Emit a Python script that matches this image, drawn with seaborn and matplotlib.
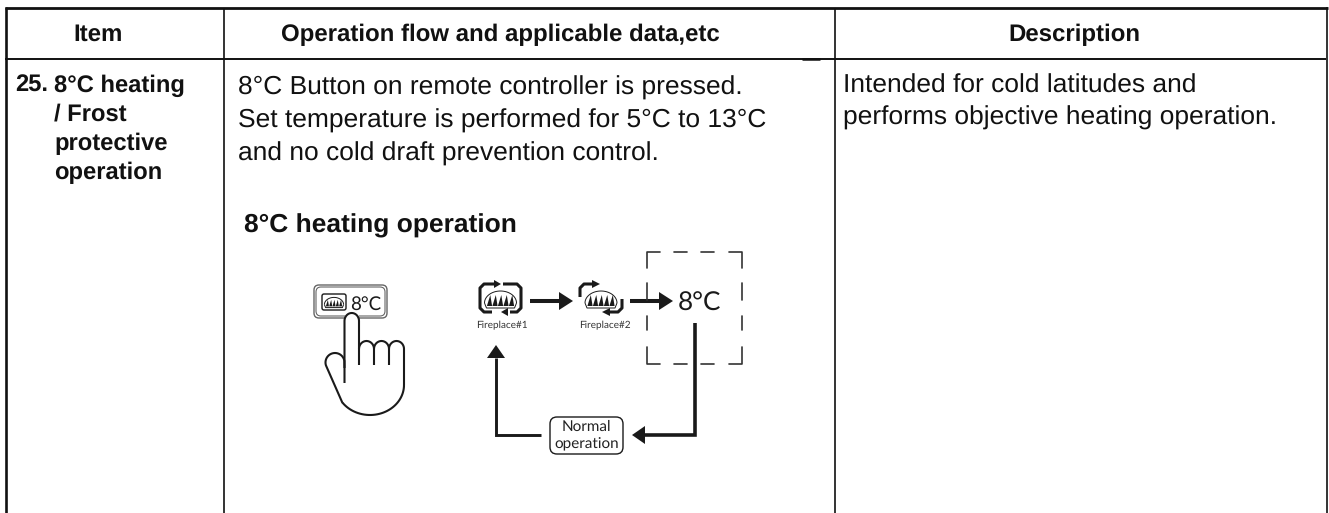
import numpy as np
import pandas as pd
import matplotlib
matplotlib.use("Agg")
import matplotlib.pyplot as plt
from matplotlib.patches import FancyBboxPatch, Polygon, Rectangle
import seaborn as sns

W, H = 1329, 513

headers = ["Item", "Operation flow and applicable data,etc", "Description"]
item_number = "25."
item_lines = ["8°C heating", "/ Frost", "protective", "operation"]
flow_lines = ["8°C Button on remote controller is pressed.",
              "Set temperature is performed for 5°C to 13°C",
              "and no cold draft prevention control."]
desc_lines = ["Intended for cold latitudes and",
              "performs objective heating operation."]
diagram_title = "8°C heating operation"
button_label = "8°C"
step_labels = ["Fireplace#1", "Fireplace#2"]
target_label = "8°C"
normal_lines = ["Normal", "operation"]

# table rules as (x0, y0, x1, y1, width)
rules = pd.DataFrame([
    (5, 7.5, 1328, 7.5, 2.0),
    (5, 59, 1326, 59, 1.4),
    (802, 59.3, 820, 59.3, 1.8),
    (5.5, 7, 5.5, 513, 1.9),
    (224, 8, 224, 513, 1.2),
    (834.5, 8, 834.5, 513, 1.2),
    (1327, 7, 1327, 513, 1.2),
], columns=["x0", "y0", "x1", "y1", "lw"])

sns.set_theme(style="white")
plt.rcParams["font.family"] = ["Liberation Sans", "DejaVu Sans"]
plt.rcParams["text.hinting"] = "no_hinting"
plt.rcParams["text.hinting_factor"] = 8

fig, ax = plt.subplots(figsize=(W / 100, H / 100), dpi=100)
fig.subplots_adjust(0, 0, 1, 1)
INK = "#1a1a1a"

for i, r in rules.iterrows():
    seg = pd.DataFrame({"x": [r.x0, r.x1], "y": [r.y0, r.y1]})
    sns.lineplot(data=seg, x="x", y="y", ax=ax, color="#111111", lw=r.lw, sort=False,
                 estimator=None, solid_capstyle="butt")
ax.set_xlim(0, W)
ax.set_ylim(H, 0)
ax.axis("off")

for x, t in zip([98, 500.5, 1074], headers):
    ax.text(x, 41, t, ha="center", va="baseline", fontsize=17.3, fontweight="bold", color="#111111")
ax.text(15, 92, item_number, ha="left", va="baseline", fontsize=17.1, fontweight="bold", color="#111111")
for y, t in zip([92, 121, 150, 179], item_lines):
    ax.text(54.5, y, t, ha="left", va="baseline", fontsize=17.1, fontweight="bold", color="#111111")
for y, t in zip([95, 128, 161], flow_lines):
    ax.text(238, y, t, ha="left", va="baseline", fontsize=19, color="#111111")
for y, t in zip([93, 125], desc_lines):
    ax.text(843, y, t, ha="left", va="baseline", fontsize=19, color="#111111")
ax.text(244.5, 232, diagram_title, ha="left", va="baseline", fontsize=19, fontweight="bold", color="#111111")


def path(xs, ys, lw=1.4, **kw):
    ax.plot(xs, ys, color=INK, lw=lw, solid_capstyle=kw.pop("cap", "butt"), **kw)


def tri(tip, base, half):
    tip = np.array(tip, float)
    base = np.array(base, float)
    d = (tip - base) / np.hypot(*(tip - base))
    n = np.array([-d[1], d[0]])
    ax.add_patch(Polygon([tip, base + n * half, base - n * half], closed=True, color=INK, lw=0, zorder=3))


def flames(cx, cy, s=1.0):
    t = np.linspace(np.pi, 2 * np.pi, 30)
    path(cx + 16 * s * np.cos(t), cy + 16 * s + 12 * s * np.sin(t), lw=0.7, zorder=4)
    path([cx - 16 * s, cx - 14 * s, cx + 14 * s, cx + 16 * s],
         [cy + 16 * s, cy + 21 * s, cy + 21 * s, cy + 16 * s], lw=0.7, zorder=4)
    for dx in [-11, -5.5, 0, 5.5, 11]:
        ax.add_patch(Polygon([[cx + (dx - 2.6) * s, cy + 19 * s], [cx + (dx + 2.6) * s, cy + 19 * s],
                              [cx + (dx + 0.8) * s, cy + 8 * s]], closed=True, color=INK, lw=0, zorder=4))


# button with hand
for off, lw in [(0, 1.0), (2, 0.8)]:
    ax.add_patch(FancyBboxPatch((314 + off, 285 + off), 73 - 2 * off, 33 - 2 * off,
                                boxstyle="round,pad=0,rounding_size=5", fc="none", ec="#666666", lw=lw, zorder=2))
ax.add_patch(FancyBboxPatch((322, 294), 24, 16, boxstyle="round,pad=0,rounding_size=2", fc="none", ec=INK, lw=1.0))
flames(334, 295, 0.6)
ax.text(366, 309.5, button_label, ha="center", va="baseline", fontsize=13.5, color=INK, family="Lato")

t = np.linspace(np.pi, 2 * np.pi, 30)
ax.add_patch(Rectangle((345, 313), 14, 75, fc="white", ec="none", zorder=3))
hand_lw = 1.5
path(np.r_[344.5, 351.75 + 7.25 * np.cos(t), 359, 359], np.r_[383, 321 + 8 * np.sin(t), 321, 365], lw=hand_lw, zorder=4)
for x0 in [359, 374, 389]:
    x1 = x0 + 15
    if x0 == 389:
        y_end = 385
    else:
        y_end = 365
    path(np.r_[x0 + 7.5 + 7.5 * np.cos(t), x1, x1], np.r_[349 + 8 * np.sin(t), 349, y_end], lw=hand_lw, zorder=4)
bt = np.linspace(0, np.pi * 0.8, 40)
path(370 + 34 * np.cos(bt), 385 + 30 * np.sin(bt), lw=hand_lw, zorder=4)
tb = np.linspace(np.pi * 0.9, np.pi * 1.95, 30)
path(np.r_[342.5, 335 + 9.5 * np.cos(tb), 344.5],
     np.r_[403, 362.5 + 9.5 * np.sin(tb), 368], lw=hand_lw, zorder=4)

# flow diagram: first icon, full frame with two gaps
icon_lw = 2.2
path([494, 484, 480, 480, 484, 492], [284, 284, 288, 308, 312, 312], lw=icon_lw, solid_joinstyle="round")
path([503, 517, 521, 521, 517, 510], [284, 284, 288, 308, 312, 312], lw=icon_lw, solid_joinstyle="round")
tri((501, 284), (494, 284), 4)
tri((501, 312), (508, 312), 4)
flames(500.5, 287)
ax.text(502, 325, step_labels[0], ha="center", va="center", fontsize=7.2, color="#333333", family="Lato")

# second icon, only two corners of the frame
path([580, 580, 584, 593], [297, 288, 284, 284], lw=icon_lw, solid_joinstyle="round")
path([622, 622, 618, 609], [299, 308, 312, 312], lw=icon_lw, solid_joinstyle="round")
tri((600, 284), (592, 284), 4)
tri((602, 312), (610, 312), 4)
flames(601, 287)
ax.text(604.5, 325, step_labels[1], ha="center", va="center", fontsize=7.2, color="#333333", family="Lato")

path([530, 559], [301, 301], lw=2.9)
tri((573, 301), (559, 301), 9)
path([630, 659], [301, 301], lw=2.9)
tri((673, 301), (659, 301), 9)
ax.text(699, 311, target_label, ha="center", va="baseline", fontsize=18.8, color=INK, family="Lato")

# dashed frame, corners and dashes
box_lw = 1.2
dash_color = "#333333"
ax.plot([647, 647, 660], [268, 252, 252], color=dash_color, lw=box_lw)
ax.plot([647, 647, 660], [347, 364, 364], color=dash_color, lw=box_lw)
ax.plot([742, 742, 729], [268, 252, 252], color=dash_color, lw=box_lw)
ax.plot([742, 742, 729], [347, 364, 364], color=dash_color, lw=box_lw)
for x0 in [674, 701]:
    ax.plot([x0, x0 + 13], [252, 252], color=dash_color, lw=box_lw)
    ax.plot([x0, x0 + 13], [364, 364], color=dash_color, lw=box_lw)
for y0, y1 in [(283, 300), (316, 330)]:
    ax.plot([647, 647], [y0, y1], color=dash_color, lw=box_lw)
    ax.plot([742, 742], [y0, y1], color=dash_color, lw=box_lw)

path([695, 695, 645], [323, 435, 435], lw=2.6, solid_joinstyle="miter")
tri((632, 435), (645, 435), 9)
path([541, 496, 496], [435, 435, 358], lw=2.1, solid_joinstyle="miter")
tri((496, 345), (496, 358), 9)

ax.add_patch(FancyBboxPatch((550, 417), 73, 37, boxstyle="round,pad=0,rounding_size=7", fc="white", ec=INK, lw=1.0))
for y, t_ in zip([427, 444], normal_lines):
    ax.text(586.5, y, t_, ha="center", va="center", fontsize=11, color="#222222", family="Lato")

fig.savefig("out.png", dpi=100)
